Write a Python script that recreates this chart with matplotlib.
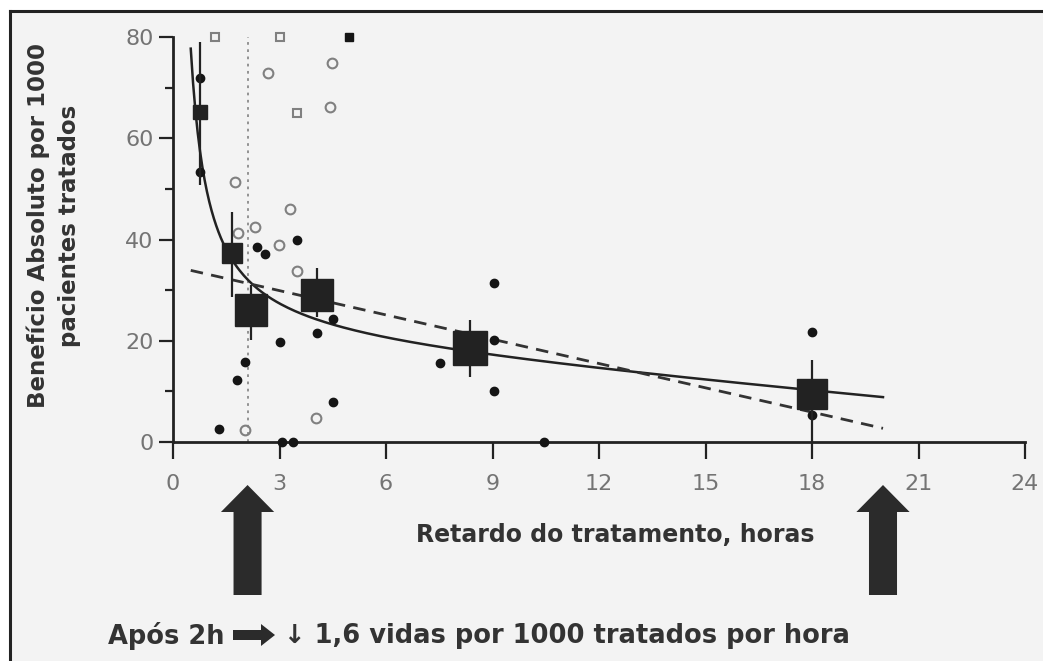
import numpy as np
import matplotlib
matplotlib.use("Agg")
import matplotlib.pyplot as plt
from matplotlib.patches import FancyArrow, Rectangle
from matplotlib.lines import Line2D
from matplotlib.transforms import blended_transform_factory

# pooled trial groups (mean benefit with range)
group_x = [0.76, 1.66, 2.19, 4.07, 8.37, 18.0]
group_y = [65.2, 37.4, 26.1, 29.0, 18.6, 9.5]
group_lo = [50.8, 28.7, 20.2, 24.7, 12.8, 0.0]
group_hi = [79.0, 45.5, 31.0, 34.4, 24.1, 16.2]

# individual trials
filled_x = [0.76, 0.76, 1.29, 1.80, 2.02, 2.36, 2.58, 3.00, 3.06, 3.37,
            3.48, 4.07, 4.52, 4.52, 7.53, 9.05, 9.05, 9.05, 10.45, 18.0, 18.0]
filled_y = [72.0, 53.4, 2.6, 12.3, 15.8, 38.5, 37.2, 19.8, 0.0, 0.0,
            39.9, 21.5, 24.3, 7.9, 15.6, 31.4, 20.2, 10.1, 0.0, 21.7, 5.3]
open_circ_x = [1.74, 1.83, 2.02, 2.30, 2.67, 2.98, 3.29, 3.48, 4.02, 4.41, 4.49]
open_circ_y = [51.4, 41.3, 2.4, 42.5, 72.9, 38.9, 46.0, 33.8, 4.7, 66.2, 74.9]
open_sq_x = [1.18, 3.00, 3.50]
open_sq_y = [80.0, 80.0, 65.0]
filled_sq_x = [4.97]
filled_sq_y = [80.0]

# regression fits: linear and non-linear (a + b*x + c/x)
lin_a, lin_b = 34.7, -1.6
nl_a, nl_b, nl_c = 19.4, -0.6, 29.3
fit_start, fit_end = 0.5, 20.0
cutoff_h = 2.1

xticks = [0, 3, 6, 9, 12, 15, 18, 21, 24]
yticks = [0, 20, 40, 60, 80]

W, H = 1043, 661
fig = plt.figure(figsize=(W / 100, H / 100), dpi=100, facecolor="white")

# page background with top/left frame line
fig.patches.append(Rectangle((10 / W, 0), 1, 1 - 11 / H, transform=fig.transFigure,
                             facecolor="#f3f3f3", edgecolor="none", zorder=-10))
fig.add_artist(Line2D([10 / W, 1], [1 - 11 / H, 1 - 11 / H], transform=fig.transFigure,
                      color="#222222", lw=2.2))
fig.add_artist(Line2D([10 / W, 10 / W], [0, 1 - 11 / H], transform=fig.transFigure,
                      color="#222222", lw=2.2))

ax = fig.add_axes([173 / W, 1 - 442 / H, 852 / W, 405 / H])
ax.set_zorder(2)
ax.set_facecolor("none")
ax.set_xlim(0, 24)
ax.set_ylim(0, 80)

for side in ["top", "right"]:
    ax.spines[side].set_visible(False)
for side in ["left", "bottom"]:
    ax.spines[side].set_color("#222222")
    ax.spines[side].set_linewidth(2.0)

ax.set_xticks(xticks)
ax.set_yticks(yticks)
ax.set_yticks([10, 30, 50, 70], minor=True)
ax.tick_params(axis="both", which="major", length=12, width=1.6, color="#222222",
               labelsize=16, labelcolor="#747474")
ax.tick_params(axis="x", which="major", pad=11)
ax.tick_params(axis="y", which="major", length=10, pad=4)
ax.tick_params(axis="y", which="minor", length=6, width=1.6, color="#222222")

# cut-off at 2 hours
ax.plot([cutoff_h, cutoff_h], [0, 80], color="#8a8a8a", lw=1.3, ls=(0, (1.5, 2.5)), zorder=1)

# fitted curves
xs = np.linspace(fit_start, fit_end, 300)
ax.plot(xs, nl_a + nl_b * xs + nl_c / xs, color="#222222", lw=1.8, zorder=3)
ax.plot(xs, lin_a + lin_b * xs, color="#333333", lw=2.0, ls=(0, (4.5, 3)), zorder=3)

# individual trials
ax.plot(open_circ_x, open_circ_y, "o", ms=7, mfc="none", mec="#808080", mew=1.5,
        clip_on=False, zorder=4)
ax.plot(open_sq_x, open_sq_y, "s", ms=6, mfc="none", mec="#808080", mew=1.5,
        clip_on=False, zorder=4)
ax.plot(filled_x, filled_y, "o", ms=6, color="#151515", clip_on=False, zorder=4)
ax.plot(filled_sq_x, filled_sq_y, "s", ms=6, color="#151515", clip_on=False, zorder=4)

# pooled groups
group_ms = [10.5, 14.5, 23, 23.5, 25, 21.5]
yerr = [np.subtract(group_y, group_lo), np.subtract(group_hi, group_y)]
ax.errorbar(group_x, group_y, yerr=yerr, fmt="none", ecolor="#222222", elinewidth=1.6,
            capsize=0, zorder=5, clip_on=False)
for gx, gy, ms in zip(group_x, group_y, group_ms):
    ax.plot(gx, gy, "s", ms=ms, color="#222222", zorder=6)

# big arrows below the axis
btrans = blended_transform_factory(ax.transData, fig.transFigure)
for ax_x in [cutoff_h, fit_end]:
    fig.add_artist(FancyArrow(ax_x, 1 - 595 / H, 0, (595 - 485) / H, width=0.79,
                              head_width=1.5, head_length=27 / H,
                              length_includes_head=True, transform=btrans,
                              color="#2b2b2b", lw=0))

fig.text(615 / W, 1 - 535 / H, "Retardo do tratamento, horas", ha="center", va="center",
         fontsize=17, fontweight="bold", color="#333333")
fig.text(54 / W, 1 - 226 / H, "Benefício Absoluto por 1000\npacientes tratados",
         rotation=90, ha="center", va="center", multialignment="center",
         fontsize=16.5, fontweight="bold", color="#333333", linespacing=1.45)

# bottom note
fig.text(224 / W, 1 - 636 / H, "Após 2h", ha="right", va="center",
         fontsize=18.5, fontweight="bold", color="#333333")
fig.add_artist(FancyArrow(233 / W, 1 - 635 / H, 42 / W, 0, width=10 / H,
                          head_width=22 / H, head_length=14 / W,
                          length_includes_head=True, transform=fig.transFigure,
                          color="#2b2b2b", lw=0))
fig.text(284 / W, 1 - 636 / H, "↓ 1,6 vidas por 1000 tratados por hora", ha="left",
         va="center", fontsize=18.5, fontweight="bold", color="#333333")

fig.savefig("out.png", dpi=100, facecolor=fig.get_facecolor())
